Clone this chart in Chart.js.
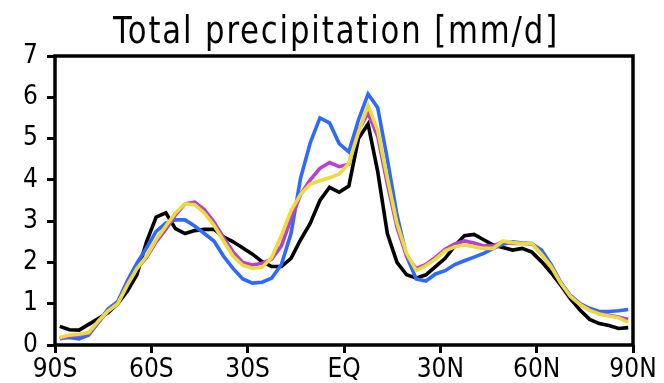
<!DOCTYPE html>
<html>
<head>
<meta charset="utf-8">
<script src="https://cdn.jsdelivr.net/npm/chart.js@4.4.1/dist/chart.umd.min.js"></script>
<style>
  html, body { margin: 0; padding: 0; background: #fff; }
  #wrap { width: 664px; height: 383px; }
</style>
</head>
<body>
<div id="wrap"><canvas id="chart"></canvas></div>
<script>
// zonal-mean precipitation, 3 degree latitude bands
const lats = [-88.5, -85.5, -82.5, -79.5, -76.5, -73.5, -70.5, -67.5, -64.5, -61.5,
  -58.5, -55.5, -52.5, -49.5, -46.5, -43.5, -40.5, -37.5, -34.5, -31.5,
  -28.5, -25.5, -22.5, -19.5, -16.5, -13.5, -10.5, -7.5, -4.5, -1.5,
  1.5, 4.5, 7.5, 10.5, 13.5, 16.5, 19.5, 22.5, 25.5, 28.5,
  31.5, 34.5, 37.5, 40.5, 43.5, 46.5, 49.5, 52.5, 55.5, 58.5,
  61.5, 64.5, 67.5, 70.5, 73.5, 76.5, 79.5, 82.5, 85.5, 88.5];

const blackVals = [0.45, 0.37, 0.36, 0.50, 0.64, 0.78, 1.00, 1.30, 1.70, 2.50,
  3.10, 3.20, 2.82, 2.70, 2.77, 2.80, 2.80, 2.62, 2.50, 2.35,
  2.20, 2.02, 1.90, 1.90, 2.10, 2.55, 2.95, 3.50, 3.82, 3.70,
  3.85, 5.00, 5.35, 4.20, 2.70, 2.00, 1.70, 1.62, 1.70, 1.90,
  2.10, 2.40, 2.65, 2.68, 2.55, 2.42, 2.36, 2.30, 2.34, 2.25,
  2.02, 1.75, 1.45, 1.12, 0.85, 0.62, 0.52, 0.47, 0.40, 0.42];

const blueVals = [0.16, 0.18, 0.15, 0.24, 0.55, 0.87, 1.05, 1.55, 1.98, 2.35,
  2.75, 2.95, 3.03, 3.03, 2.88, 2.70, 2.52, 2.15, 1.85, 1.60,
  1.50, 1.52, 1.62, 1.95, 2.70, 4.05, 4.90, 5.50, 5.38, 4.88,
  4.68, 5.45, 6.08, 5.75, 4.50, 3.15, 2.15, 1.60, 1.55, 1.72,
  1.80, 1.95, 2.04, 2.13, 2.22, 2.34, 2.44, 2.50, 2.47, 2.45,
  2.30, 1.95, 1.52, 1.20, 1.00, 0.89, 0.81, 0.81, 0.83, 0.86];

const purpleVals = [0.15, 0.22, 0.24, 0.28, 0.55, 0.82, 1.00, 1.45, 1.85, 2.12,
  2.50, 2.80, 3.15, 3.42, 3.46, 3.28, 2.98, 2.60, 2.25, 2.00,
  1.94, 1.98, 2.08, 2.40, 3.05, 3.65, 4.00, 4.28, 4.42, 4.32,
  4.38, 5.20, 5.62, 5.05, 3.90, 2.85, 2.15, 1.85, 1.95, 2.12,
  2.32, 2.45, 2.52, 2.47, 2.40, 2.40, 2.50, 2.46, 2.46, 2.46,
  2.20, 1.90, 1.50, 1.18, 0.98, 0.85, 0.76, 0.72, 0.68, 0.62];

const yellowVals = [0.18, 0.24, 0.26, 0.30, 0.58, 0.82, 1.00, 1.45, 1.85, 2.15,
  2.55, 2.88, 3.20, 3.42, 3.40, 3.20, 2.90, 2.52, 2.15, 1.93,
  1.86, 1.88, 2.12, 2.65, 3.25, 3.65, 3.90, 3.98, 4.05, 4.14,
  4.40, 5.15, 5.80, 5.20, 4.05, 2.95, 2.22, 1.80, 1.92, 2.08,
  2.28, 2.38, 2.42, 2.38, 2.34, 2.34, 2.52, 2.48, 2.46, 2.46,
  2.20, 1.90, 1.50, 1.18, 0.98, 0.84, 0.75, 0.70, 0.66, 0.55];

const latTicks = [-90, -60, -30, 0, 30, 60, 90];
const yTicks = [0, 1, 2, 3, 4, 5, 6, 7];

function latLabel(v) {
  if (v === 0) return 'EQ';
  return Math.abs(v) + (v < 0 ? 'S' : 'N');
}

function series(vals, color, order) {
  return {
    data: lats.map((lat, i) => ({ x: lat, y: vals[i] })),
    borderColor: color,
    borderWidth: 3.6,
    pointRadius: 0,
    tension: 0,
    fill: false,
    order: order
  };
}

const tickFont = { family: "'DejaVu Sans Condensed', 'DejaVu Sans'", size: 26 };

// box around the plot and the title on top
const framePlugin = {
  id: 'frame',
  afterDatasetsDraw(chart) {
    const { ctx, chartArea: a } = chart;
    ctx.save();
    ctx.strokeStyle = '#000';
    ctx.lineWidth = 3.5;
    ctx.strokeRect(a.left, a.top, a.right - a.left, a.bottom - a.top);
    ctx.restore();
  },
  afterDraw(chart) {
    const ctx = chart.ctx;
    ctx.save();
    ctx.fillStyle = '#000';
    ctx.font = "37px 'DejaVu Sans Condensed', 'DejaVu Sans'";
    ctx.letterSpacing = '2px';
    ctx.textAlign = 'center';
    ctx.textBaseline = 'alphabetic';
    ctx.fillText('Total precipitation [mm/d]', 336, 43, 446);
    ctx.restore();
  }
};

new Chart(document.getElementById('chart'), {
  type: 'line',
  data: {
    datasets: [
      series(blackVals, '#000000', 4),
      series(blueVals, '#2d68ff', 3),
      series(purpleVals, '#b63fd4', 2),
      series(yellowVals, '#ecdc3a', 1)
    ]
  },
  options: {
    responsive: true,
    maintainAspectRatio: false,
    animation: false,
    layout: { padding: { top: 56, right: 31, left: 0, bottom: 0 } },
    plugins: { legend: { display: false }, tooltip: { enabled: false } },
    scales: {
      x: {
        type: 'linear',
        min: -90,
        max: 90,
        afterFit: (s) => { s.height = 38; },
        afterBuildTicks: (s) => { s.ticks = latTicks.map(v => ({ value: v })); },
        grid: { drawOnChartArea: false, tickLength: 8, tickWidth: 3, tickColor: '#000' },
        border: { display: false },
        ticks: { color: '#000', font: tickFont, padding: 2, maxRotation: 0, callback: latLabel }
      },
      y: {
        min: 0,
        max: 7,
        afterFit: (s) => { s.width = 55; },
        afterBuildTicks: (s) => { s.ticks = yTicks.map(v => ({ value: v })); },
        grid: { drawOnChartArea: false, tickLength: 8, tickWidth: 3, tickColor: '#000' },
        border: { display: false },
        ticks: { color: '#000', font: tickFont, padding: 9 }
      }
    }
  },
  plugins: [framePlugin]
});
</script>
</body>
</html>
